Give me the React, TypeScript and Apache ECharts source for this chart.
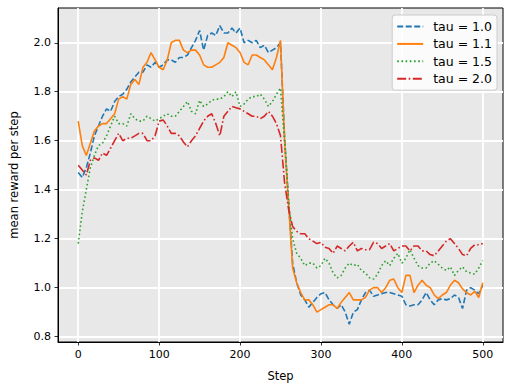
import React, { useEffect, useRef } from "react";
import * as echarts from "echarts";

const steps = [
  0, 5, 10, 15, 20, 25, 30, 35, 40, 45, 50, 55, 60, 65, 70, 75, 80, 85, 90, 95,
  100, 105, 110, 115, 120, 125, 130, 135, 140, 145, 150, 155, 160, 165, 170, 175, 180, 185, 190, 195,
  200, 205, 210, 215, 220, 225, 230, 235, 240, 245, 250, 255, 260, 265, 270, 275, 280, 285, 290, 295,
  300, 305, 310, 315, 320, 325, 330, 335, 340, 345, 350, 355, 360, 365, 370, 375, 380, 385, 390, 395,
  400, 405, 410, 415, 420, 425, 430, 435, 440, 445, 450, 455, 460, 465, 470, 475, 480, 485, 490, 495, 500,
];

const tau10 = [
  1.47, 1.45, 1.49, 1.55, 1.62, 1.66, 1.70, 1.73, 1.72, 1.76, 1.78, 1.79, 1.81, 1.84, 1.86, 1.88, 1.88, 1.91, 1.90, 1.92,
  1.90, 1.91, 1.93, 1.93, 1.92, 1.94, 1.94, 1.95, 1.98, 2.01, 2.05, 1.97, 2.03, 2.04, 2.03, 2.07, 2.04, 2.04, 2.06, 2.04,
  2.06, 2.00, 2.01, 2.00, 2.01, 1.98, 1.99, 1.96, 1.97, 1.98, 2.00, 1.62, 1.35, 1.10, 1.02, 0.97, 0.95, 0.92, 0.94, 0.96,
  0.975, 0.98, 0.95, 0.93, 0.915, 0.93, 0.90, 0.85, 0.90, 0.91, 0.95, 0.98, 0.99, 0.965, 0.97, 0.975, 0.98, 0.98, 0.975, 0.97,
  0.965, 0.93, 0.925, 0.93, 0.93, 0.95, 0.98, 0.95, 0.93, 0.95, 0.955, 0.95, 0.955, 0.97, 0.96, 0.915, 0.99, 1.00, 0.99, 0.975, 1.01,
];

const tau11 = [
  1.68, 1.58, 1.54, 1.59, 1.64, 1.66, 1.67, 1.67, 1.69, 1.71, 1.77, 1.78, 1.77, 1.83, 1.85, 1.83, 1.90, 1.92, 1.96, 1.93,
  1.90, 1.89, 1.93, 2.00, 2.01, 2.01, 1.97, 1.96, 1.97, 1.97, 1.95, 1.91, 1.90, 1.90, 1.91, 1.92, 1.94, 2.00, 1.99, 1.98,
  1.96, 1.92, 1.91, 1.95, 1.95, 1.94, 1.93, 1.91, 1.89, 1.94, 2.01, 1.60, 1.34, 1.08, 1.02, 0.98, 0.95, 0.95, 0.93, 0.90,
  0.91, 0.92, 0.93, 0.93, 0.915, 0.94, 0.96, 0.98, 0.95, 0.95, 0.95, 0.96, 0.99, 1.00, 1.00, 0.98, 1.00, 1.03, 1.035, 1.00,
  0.98, 1.05, 1.05, 0.98, 1.01, 1.03, 1.01, 1.00, 0.97, 0.955, 0.97, 0.98, 1.01, 1.03, 1.02, 0.995, 0.98, 0.97, 0.985, 0.96, 1.02,
];

const tau15 = [
  1.18, 1.31, 1.40, 1.49, 1.54, 1.58, 1.59, 1.62, 1.66, 1.70, 1.67, 1.67, 1.66, 1.71, 1.69, 1.68, 1.68, 1.70, 1.69, 1.68,
  1.69, 1.70, 1.71, 1.70, 1.70, 1.72, 1.74, 1.76, 1.72, 1.71, 1.765, 1.74, 1.75, 1.765, 1.77, 1.77, 1.78, 1.80, 1.78, 1.80,
  1.74, 1.75, 1.77, 1.78, 1.78, 1.79, 1.77, 1.74, 1.76, 1.79, 1.815, 1.60, 1.35, 1.20, 1.14, 1.12, 1.09, 1.10, 1.10, 1.08,
  1.09, 1.12, 1.10, 1.06, 1.04, 1.05, 1.08, 1.10, 1.09, 1.095, 1.07, 1.06, 1.04, 1.035, 1.055, 1.09, 1.11, 1.09, 1.12, 1.14,
  1.10, 1.12, 1.155, 1.12, 1.09, 1.08, 1.08, 1.10, 1.11, 1.095, 1.08, 1.07, 1.085, 1.05, 1.07, 1.085, 1.065, 1.06, 1.055, 1.08, 1.11,
];

const tau20 = [
  1.50, 1.48, 1.46, 1.52, 1.53, 1.52, 1.55, 1.54, 1.57, 1.60, 1.63, 1.60, 1.61, 1.61, 1.62, 1.63, 1.63, 1.60, 1.60, 1.62,
  1.68, 1.685, 1.66, 1.63, 1.63, 1.62, 1.595, 1.575, 1.60, 1.62, 1.65, 1.68, 1.70, 1.71, 1.67, 1.62, 1.70, 1.72, 1.74, 1.735,
  1.73, 1.72, 1.71, 1.70, 1.70, 1.69, 1.70, 1.72, 1.70, 1.67, 1.62, 1.43, 1.32, 1.25, 1.23, 1.22, 1.22, 1.20, 1.19, 1.18,
  1.185, 1.165, 1.16, 1.14, 1.17, 1.16, 1.15, 1.17, 1.185, 1.15, 1.16, 1.155, 1.155, 1.185, 1.18, 1.16, 1.17, 1.18, 1.15, 1.16,
  1.17, 1.17, 1.15, 1.17, 1.17, 1.15, 1.15, 1.135, 1.13, 1.15, 1.17, 1.19, 1.20, 1.18, 1.16, 1.135, 1.13, 1.16, 1.175, 1.175, 1.18,
];

const seriesNames = ["tau = 1.0", "tau = 1.1", "tau = 1.5", "tau = 2.0"];
const seriesValues = [tau10, tau11, tau15, tau20];
const colors = ["#1f77b4", "#ff7f0e", "#2ca02c", "#d62728"];
const dashes: (number[] | "solid")[] = [[6, 2.5], "solid", [1.6, 2.6], [9, 2.5, 1.6, 2.5]];

const xTicks = [0, 100, 200, 300, 400, 500];
const yTicks = [0.8, 1.0, 1.2, 1.4, 1.6, 1.8, 2.0];

const FONT = "DejaVu Sans";

export default function App() {
  const ref = useRef<HTMLDivElement>(null);
  useEffect(() => {
    if (!ref.current) return;
    const chart = echarts.init(ref.current, undefined, { renderer: "svg" });
    const option = {
      animation: false,
      backgroundColor: "#ffffff",
      textStyle: { fontFamily: FONT },
      grid: {
        left: 55,
        right: 9,
        top: 8,
        bottom: 48,
        show: true,
        backgroundColor: "#e8e8e8",
        borderColor: "#000",
        borderWidth: 1,
      },
      legend: {
        right: 15,
        top: 15,
        orient: "vertical",
        backgroundColor: "rgba(255,255,255,0.8)",
        borderColor: "#cccccc",
        borderWidth: 1,
        borderRadius: 3,
        padding: [5, 5, 5, 4],
        itemWidth: 26,
        itemHeight: 12,
        itemGap: 4.4,
        itemStyle: { opacity: 0 },
        textStyle: { fontSize: 12.5, color: "#000", fontFamily: FONT, padding: [0, 0, 0, 5] },
        data: seriesNames,
      },
      xAxis: {
        type: "value",
        min: -25,
        max: 525,
        name: "Step",
        nameLocation: "middle",
        nameGap: 28,
        nameTextStyle: { fontSize: 11.5, color: "#000", fontFamily: FONT },
        axisLine: { show: true, onZero: false, lineStyle: { color: "#000", width: 1 } },
        axisTick: { show: true, inside: false, length: 3.5, customValues: xTicks, lineStyle: { color: "#000", width: 0.8 } },
        axisLabel: { customValues: xTicks, fontSize: 11, color: "#000", margin: 7, fontFamily: FONT },
        splitLine: { show: true, lineStyle: { color: "#ffffff", width: 1.8 } },
      },
      yAxis: {
        type: "value",
        min: 0.778,
        max: 2.142,
        name: "mean reward per step",
        nameLocation: "middle",
        nameGap: 38,
        nameTextStyle: { fontSize: 11.5, color: "#000", fontFamily: FONT },
        axisLine: { show: true, onZero: false, lineStyle: { color: "#000", width: 1 } },
        axisTick: { show: true, inside: false, length: 3.5, customValues: yTicks, lineStyle: { color: "#000", width: 0.8 } },
        axisLabel: {
          customValues: yTicks,
          fontSize: 11,
          color: "#000",
          margin: 7,
          fontFamily: FONT,
          formatter: (v: number) => v.toFixed(1),
        },
        splitLine: { show: true, lineStyle: { color: "#ffffff", width: 1.8 } },
      },
      series: seriesNames.map((name, i) => ({
        name,
        type: "line",
        symbol: "none",
        showSymbol: false,
        data: steps.map((s, j) => [s, seriesValues[i][j]]),
        lineStyle: { color: colors[i], width: 1.6, type: dashes[i] },
        itemStyle: { color: colors[i] },
        emphasis: { disabled: true },
      })),
    };
    chart.setOption(option as any);
    return () => chart.dispose();
  }, []);
  return <div ref={ref} style={{ width: 512, height: 390, position: "absolute", left: 0, top: 0 }} />;
}
